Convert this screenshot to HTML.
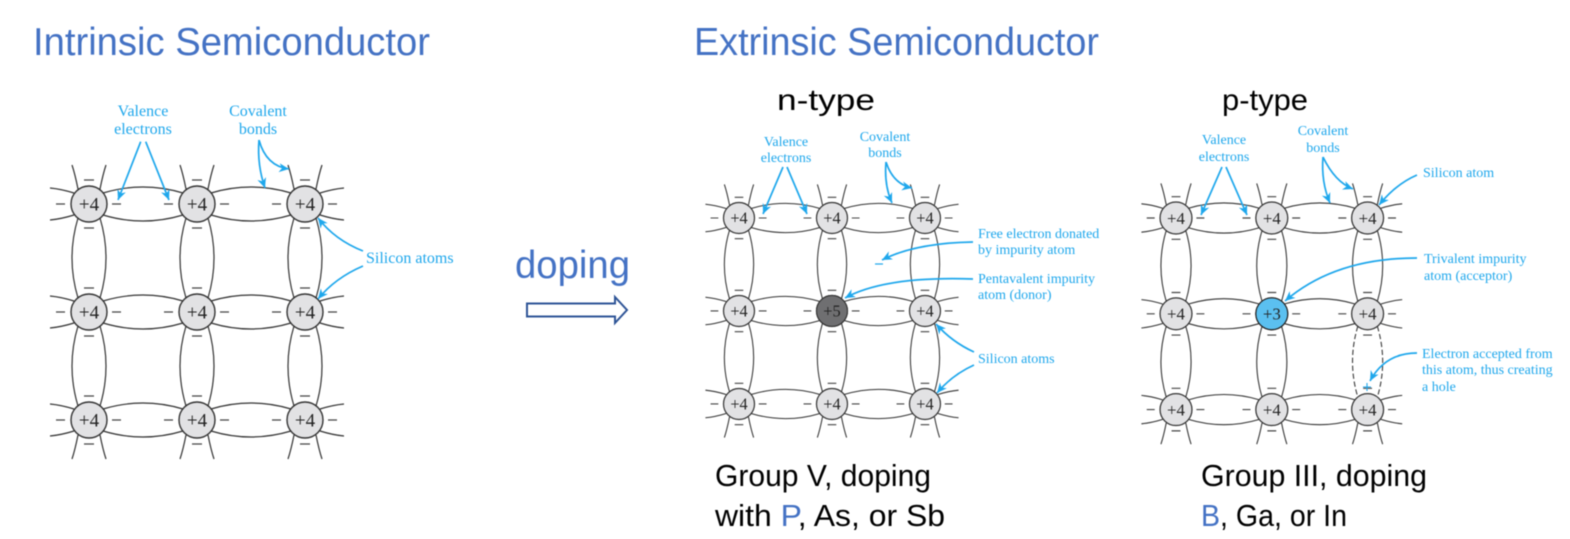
<!DOCTYPE html>
<html><head><meta charset="utf-8"><style>
html,body{margin:0;padding:0;background:#fff;width:1570px;height:539px;overflow:hidden}
svg{display:block;filter:blur(.4px)}
.t{font-family:"Liberation Sans",sans-serif;}
.s{font-family:"Liberation Serif",serif;fill:#1ea7ec}
.n{font-family:"Liberation Serif",serif;font-size:19px;text-anchor:middle;fill:#222}
.c{text-anchor:middle}
.ar{fill:none;stroke:#1ea7ec;stroke-width:1.7}
</style></head><body>
<svg width="1570" height="539" viewBox="0 0 1570 539" xmlns="http://www.w3.org/2000/svg">
<defs>
<marker id="m" markerUnits="userSpaceOnUse" markerWidth="12" markerHeight="10" refX="10" refY="4.5" orient="auto"><path d="M0,0 L10,4.5 L0,9 L3,4.5 z" fill="#1ea7ec"/></marker>
<g id="a"><circle r="18" fill="#e2e2e4" stroke="#333" stroke-width="1.4"/><path d="M-33,0H-24M23,0H32M-5,-24H5M-5,24H5" stroke="#444" stroke-width="1.3" fill="none"/></g>
<g id="h"><path d="M14,-11Q54,-23 94,-11M14,11Q54,23 94,11" fill="none" stroke="#333" stroke-width="1.2"/></g>
<g id="v"><path d="M-11,14Q-23,54 -11,94M11,14Q23,54 11,94" fill="none" stroke="#333" stroke-width="1.2"/></g>
<g id="st"><path d="M-11,-15Q-14,-30 -17,-39M11,-15Q14,-30 17,-39" fill="none" stroke="#333" stroke-width="1.2"/></g>
<g id="sb"><path d="M-11,15Q-14,30 -17,39M11,15Q14,30 17,39" fill="none" stroke="#333" stroke-width="1.2"/></g>
<g id="sl"><path d="M-15,-11Q-28,-15 -39,-16M-15,11Q-28,15 -39,16" fill="none" stroke="#333" stroke-width="1.2"/></g>
<g id="sr"><path d="M15,-11Q28,-15 39,-16M15,11Q28,15 39,16" fill="none" stroke="#333" stroke-width="1.2"/></g>
<g id="base">
<use href="#st"/><use href="#st" x="108"/><use href="#st" x="216"/>
<use href="#sb" y="216"/><use href="#sb" x="108" y="216"/><use href="#sb" x="216" y="216"/>
<use href="#sl"/><use href="#sl" y="108"/><use href="#sl" y="216"/>
<use href="#sr" x="216"/><use href="#sr" x="216" y="108"/><use href="#sr" x="216" y="216"/>
<use href="#h"/><use href="#h" x="108"/><use href="#h" y="108"/><use href="#h" x="108" y="108"/><use href="#h" y="216"/><use href="#h" x="108" y="216"/>
<use href="#v"/><use href="#v" x="108"/><use href="#v" x="216"/><use href="#v" y="108"/><use href="#v" x="108" y="108"/>
</g>
<g id="atoms">
<use href="#a"/><use href="#a" x="108"/><use href="#a" x="216"/>
<use href="#a" y="108"/><use href="#a" x="108" y="108"/><use href="#a" x="216" y="108"/>
<use href="#a" y="216"/><use href="#a" x="108" y="216"/><use href="#a" x="216" y="216"/>
</g>
</defs>

<text class="t" x="33" y="55" font-size="39" fill="#4472c4" textLength="397" lengthAdjust="spacingAndGlyphs">Intrinsic Semiconductor</text>
<text class="t" x="694" y="55" font-size="39" fill="#4472c4" textLength="405" lengthAdjust="spacingAndGlyphs">Extrinsic Semiconductor</text>
<text class="t" x="515" y="278" font-size="39" fill="#4472c4" textLength="115" lengthAdjust="spacingAndGlyphs">doping</text>
<path d="M527,303.500H615V297L627,310L615,323V316.500H527Z" fill="#fff" stroke="#2f5597" stroke-width="2"/>
<text class="t" x="777" y="110" font-size="30" fill="#000" textLength="98" lengthAdjust="spacingAndGlyphs">n-type</text>
<text class="t" x="1222" y="110" font-size="30" fill="#000" textLength="86" lengthAdjust="spacingAndGlyphs">p-type</text>
<text class="t" x="715" y="486" font-size="31" fill="#000" textLength="216" lengthAdjust="spacingAndGlyphs">Group V, doping</text>
<text class="t" x="715" y="526" font-size="31" fill="#000" textLength="230" lengthAdjust="spacingAndGlyphs">with <tspan fill="#4472c4">P</tspan>, As, or Sb</text>
<text class="t" x="1201" y="486" font-size="31" fill="#000" textLength="226" lengthAdjust="spacingAndGlyphs">Group III, doping</text>
<text class="t" x="1201" y="526" font-size="31" fill="#000" textLength="146" lengthAdjust="spacingAndGlyphs"><tspan fill="#4472c4">B</tspan>, Ga, or In</text>

<!-- Left lattice -->
<g transform="translate(89,204)">
<use href="#base"/><use href="#v" x="216" y="108"/><use href="#atoms"/>
<text class="n" y="6.500">+4</text><text class="n" x="108" y="6.500">+4</text><text class="n" x="216" y="6.500">+4</text>
<text class="n" y="114.500">+4</text><text class="n" x="108" y="114.500">+4</text><text class="n" x="216" y="114.500">+4</text>
<text class="n" y="222.500">+4</text><text class="n" x="108" y="222.500">+4</text><text class="n" x="216" y="222.500">+4</text>
</g>
<g class="s" font-size="16">
<text class="c" x="143" y="116">Valence</text><text class="c" x="143" y="134">electrons</text>
<text class="c" x="258" y="116">Covalent</text><text class="c" x="258" y="134">bonds</text>
<text x="366" y="263">Silicon atoms</text>
</g>
<g class="ar">
<path d="M140.700,141.700L118,200" marker-end="url(#m)"/>
<path d="M145.700,141.700L169,200" marker-end="url(#m)"/>
<path d="M259,140Q257,165 265,188" marker-end="url(#m)"/>
<path d="M259,140Q266,166 289,169" marker-end="url(#m)"/>
<path d="M363,251Q335,240 318,218" marker-end="url(#m)"/>
<path d="M363,266Q335,278 318,299" marker-end="url(#m)"/>
</g>

<!-- Middle lattice -->
<g transform="translate(739,218) scale(.861)">
<use href="#base"/><use href="#v" x="216" y="108"/><use href="#atoms"/>
<circle cx="108" cy="108" r="18" fill="#6f6f71" stroke="#333" stroke-width="1.300"/>
<text class="n" y="6.500">+4</text><text class="n" x="108" y="6.500">+4</text><text class="n" x="216" y="6.500">+4</text>
<text class="n" y="114.500">+4</text><text class="n" x="108" y="114.500">+5</text><text class="n" x="216" y="114.500">+4</text>
<text class="n" y="222.500">+4</text><text class="n" x="108" y="222.500">+4</text><text class="n" x="216" y="222.500">+4</text>
</g>
<path d="M875,264H883" stroke="#1ea7ec" stroke-width="1.200"/>
<g class="s" font-size="14">
<text class="c" x="786" y="146">Valence</text><text class="c" x="786" y="162">electrons</text>
<text class="c" x="885" y="141">Covalent</text><text class="c" x="885" y="157">bonds</text>
<text x="978" y="238">Free electron donated</text><text x="978" y="254">by impurity atom</text>
<text x="978" y="283">Pentavalent impurity</text><text x="978" y="299">atom (donor)</text>
<text x="978" y="363">Silicon atoms</text>
</g>
<g class="ar" stroke-width="1.500">
<path d="M783,167L763,214" marker-end="url(#m)"/>
<path d="M787,167L807,214" marker-end="url(#m)"/>
<path d="M886,162Q884,185 892,203" marker-end="url(#m)"/>
<path d="M886,162Q893,184 912,188" marker-end="url(#m)"/>
<path d="M973,242Q915,243 882,260" marker-end="url(#m)"/>
<path d="M973,279Q885,276 845,298" marker-end="url(#m)"/>
<path d="M974,352Q952,342 936,324" marker-end="url(#m)"/>
<path d="M974,365Q952,375 937,393" marker-end="url(#m)"/>
</g>

<!-- Right lattice -->
<g transform="translate(1176,218) scale(.887)">
<use href="#base"/>
<path d="M205,122Q193,162 205,202M227,122Q239,162 227,202" fill="none" stroke="#333" stroke-width="1.200" stroke-dasharray="6 3"/>
<use href="#atoms"/>
<circle cx="108" cy="108" r="18" fill="#5bc0f0" stroke="#222" stroke-width="1.300"/>
<text class="n" y="6.500">+4</text><text class="n" x="108" y="6.500">+4</text><text class="n" x="216" y="6.500">+4</text>
<text class="n" y="114.500">+4</text><text class="n" x="108" y="114.500">+3</text><text class="n" x="216" y="114.500">+4</text>
<text class="n" y="222.500">+4</text><text class="n" x="108" y="222.500">+4</text><text class="n" x="216" y="222.500">+4</text>
</g>
<path d="M1363,387H1371M1367,383V391" stroke="#1ea7ec" stroke-width="1.100"/>
<g class="s" font-size="14">
<text class="c" x="1224" y="144">Valence</text><text class="c" x="1224" y="161">electrons</text>
<text class="c" x="1323" y="135">Covalent</text><text class="c" x="1323" y="152">bonds</text>
<text x="1423" y="177">Silicon atom</text>
<text x="1424" y="263">Trivalent impurity</text><text x="1424" y="280">atom (acceptor)</text>
<text x="1422" y="358">Electron accepted from</text><text x="1422" y="374">this atom, thus creating</text><text x="1422" y="391">a hole</text>
</g>
<g class="ar" stroke-width="1.500">
<path d="M1222,167L1201,215" marker-end="url(#m)"/>
<path d="M1226,167L1247,215" marker-end="url(#m)"/>
<path d="M1323,157Q1321,182 1330,203" marker-end="url(#m)"/>
<path d="M1323,157Q1335,182 1353,189" marker-end="url(#m)"/>
<path d="M1417,175Q1396,184 1379,205" marker-end="url(#m)"/>
<path d="M1417,258Q1335,258 1285,301" marker-end="url(#m)"/>
<path d="M1417,353Q1385,353 1370,381" marker-end="url(#m)"/>
</g>
</svg>
</body></html>
